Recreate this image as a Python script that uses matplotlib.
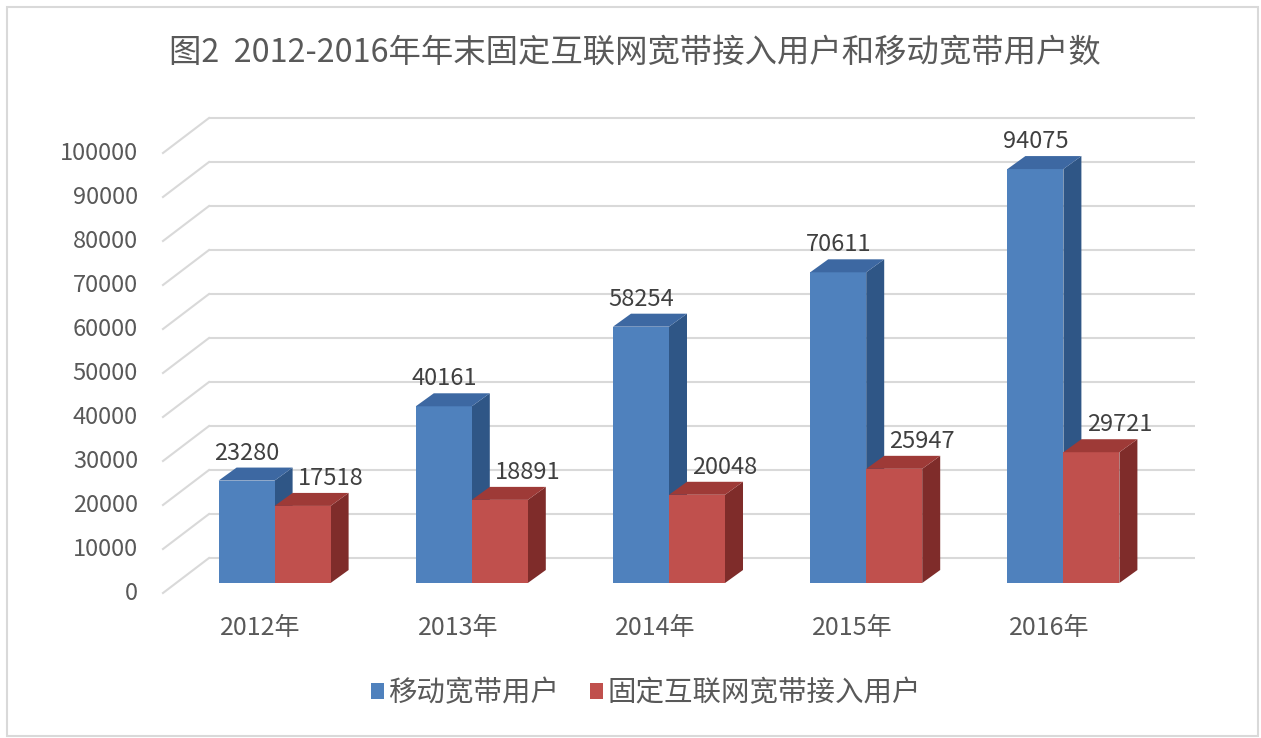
import matplotlib
matplotlib.use("Agg")
import matplotlib.pyplot as plt
from matplotlib.patches import Polygon, Rectangle
import numpy as np

plt.rcParams['font.family'] = ['Noto Sans CJK SC', 'DejaVu Sans']

# ---------------- data ----------------
title = "图2  2012-2016年年末固定互联网宽带接入用户和移动宽带用户数"
categories = ["2012年", "2013年", "2014年", "2015年", "2016年"]
series_names = ["移动宽带用户", "固定互联网宽带接入用户"]
mobile = [23280, 40161, 58254, 70611, 94075]
fixed = [17518, 18891, 20048, 25947, 29721]
yticks = [0, 10000, 20000, 30000, 40000, 50000, 60000, 70000, 80000, 90000, 100000]

# ---------------- style ----------------
front_cols = ["#4F81BD", "#C0504D"]
top_cols = ["#3D68A2", "#9E3A37"]
side_cols = ["#2F5686", "#7F2C2A"]
grid_col = "#D9D9D9"
txt_col = "#595959"

W, H, DPI = 12.61, 7.38, 100
fig = plt.figure(figsize=(W, H), dpi=DPI)
ax = fig.add_axes([176 / 1261, 1 - 583 / 738, 986 / 1261, 440 / 738])
ax.set_xlim(-0.5, len(categories) - 0.5)
ax.set_ylim(0, 100000)
ax.axis('off')

# pixel offsets of the pseudo 3D geometry
BACK = (33, 25)     # from bar plane to back wall
FRONT = (-13, -10)  # from bar plane to front edge
DEPTH = (18, 13)    # bar depth

def shift(x, y, d):
    p = ax.transData.transform((x, y))
    return ax.transData.inverted().transform((p[0] + d[0], p[1] + d[1]))

x0, x1 = ax.get_xlim()
# gridlines on back wall + diagonal on side wall
for v in yticks:
    a = shift(x0, v, BACK)
    b = shift(x1, v, BACK)
    ax.plot([a[0], b[0]], [a[1], b[1]], color=grid_col, lw=1.5, zorder=0,
            solid_capstyle='butt', clip_on=False)
    f = shift(x0, v, FRONT)
    ax.plot([f[0], a[0]], [f[1], a[1]], color=grid_col, lw=1.5, zorder=0,
            clip_on=False)
    ax.annotate(f"{v}", (x0, v), xytext=(-38, -10), textcoords='offset pixels',
                ha='right', va='center', fontsize=17, color=txt_col,
                annotation_clip=False)

bw = 0.284
xs = np.arange(len(categories))
handles = []
for s, vals in enumerate([mobile, fixed]):
    lefts = xs - bw if s == 0 else xs
    bars = ax.bar(lefts, vals, width=bw, align='edge', color=front_cols[s],
                  zorder=2 + s * 3, linewidth=0, label=series_names[s],
                  clip_on=False)
    handles.append(bars)
    for xl, v in zip(lefts, vals):
        xr = xl + bw
        # side face
        side = [(xr, 0), (xr, v), tuple(shift(xr, v, DEPTH)), tuple(shift(xr, 0, DEPTH))]
        ax.add_patch(Polygon(side, closed=True, facecolor=side_cols[s],
                             edgecolor='none', zorder=1 + s * 3, clip_on=False))
        # top face
        top = [(xl, v), (xr, v), tuple(shift(xr, v, DEPTH)), tuple(shift(xl, v, DEPTH))]
        ax.add_patch(Polygon(top, closed=True, facecolor=top_cols[s],
                             edgecolor='none', zorder=3 + s * 3, clip_on=False))
        # value label
        dx = 0 if s == 0 else 28
        ax.annotate(f"{v}", (xl + bw / 2, v), xytext=(dx, 21),
                    textcoords='offset pixels', ha='center', va='baseline',
                    fontsize=17, color="#404040", zorder=10,
                    annotation_clip=False)

# category labels
for x, c in zip(xs, categories):
    ax.annotate(c, (x, 0), xytext=(-14, -45), textcoords='offset pixels',
                ha='center', va='center', fontsize=18, color=txt_col,
                annotation_clip=False)

# title
fig.text(635 / 1261, 1 - 53 / 738, title, ha='center', va='center',
         fontsize=23.3, color=txt_col)

# legend
fig.legend(handles, series_names, loc='center',
           bbox_to_anchor=(646 / 1261, 1 - 693 / 738), ncol=2, frameon=False,
           fontsize=20.5, handlelength=0.45, handleheight=0.45,
           handletextpad=0.15, columnspacing=1.1, labelcolor=txt_col)

# outer frame
fig.add_artist(Rectangle((7 / 1261, 2 / 738), 1251 / 1261, 729 / 738,
                         transform=fig.transFigure, fill=False,
                         edgecolor=grid_col, lw=1.5))

fig.savefig("out.png", dpi=DPI)
